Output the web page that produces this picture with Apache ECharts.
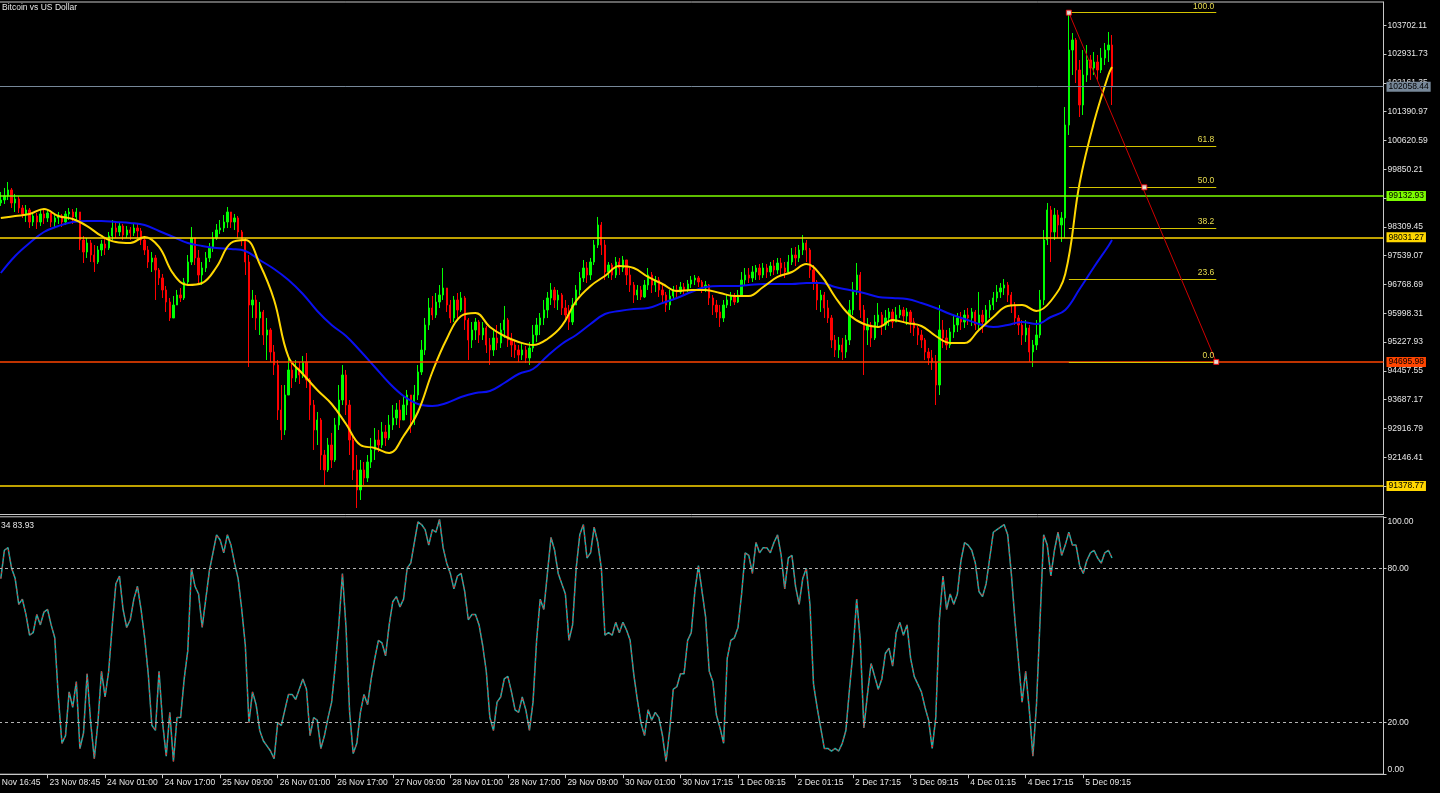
<!DOCTYPE html>
<html><head><meta charset="utf-8">
<script src="https://cdn.jsdelivr.net/npm/echarts@6/dist/echarts.min.js"></script>
<style>html,body{margin:0;padding:0;background:#000;}#c{width:1440px;height:793px;}</style>
</head><body><div id="c"></div>
<script>
// ---------------- data ----------------
const tickLabels = ['23 Nov 08:45','24 Nov 01:00','24 Nov 17:00','25 Nov 09:00','26 Nov 01:00','26 Nov 17:00','27 Nov 09:00','28 Nov 01:00','28 Nov 17:00','29 Nov 09:00','30 Nov 01:00','30 Nov 17:15','1 Dec 09:15','2 Dec 01:15','2 Dec 17:15','3 Dec 09:15','4 Dec 01:15','4 Dec 17:15','5 Dec 09:15'];
const firstTickLabel = '22 Nov 16:45';
const title = 'Bitcoin vs US Dollar';
const stochHeader = '34 83.93';
const firstOpen = 98950;
const closes = [
99029,99136,99297,98949,99056,98815,98655,98762,98440,98601,98440,98655,98548,98682,98440,98548,
98601,98440,98655,98708,98575,98708,97959,97638,97879,97558,97370,97692,97852,97745,98066,98280,
98173,98333,98093,98227,98147,98280,98200,97959,97692,97370,97478,97157,96943,96622,96300,95873,
96220,96488,96408,96835,97370,98013,97478,97023,97210,97478,97745,98013,98227,98280,98440,98708,
98440,98548,98173,97959,97370,96220,96354,95873,96033,95418,95552,94963,94615,93412,92877,93813,
94482,94268,94535,94348,94695,94214,93545,92877,93144,92208,91807,92475,92074,93010,93679,94348,
93545,92609,91807,91272,91807,91593,92020,92342,92609,92475,92823,92663,93010,93198,93412,93144,
93545,93813,93144,93813,94428,95017,95685,96140,95953,96300,96488,96675,96220,95873,96354,96087,
96408,95819,95284,95552,95765,95418,95605,95150,95017,95338,95204,95552,95819,95284,95150,95017,
94883,95017,94803,95070,95418,95685,95873,96087,96408,96622,96354,96488,96140,95953,95765,96220,
96622,96943,97210,97023,97370,97825,98360,97825,97103,97290,97023,97370,97210,97424,97023,96755,
96488,96622,96435,96755,97023,96755,96889,96622,96488,96220,96461,96622,96568,96702,96622,96782,
96889,96943,96835,96675,96755,96408,96220,96033,95873,96220,96354,96461,96300,96488,96889,97023,
96943,97103,97210,97023,97210,97103,97263,97157,97344,97210,97103,97370,97558,97478,97692,97879,
97692,97157,96835,96354,96488,96140,95873,95284,95017,95150,94963,95284,96087,96622,97023,96087,
95552,95685,95338,95765,95953,95685,95873,96033,95765,95953,96087,95926,96033,95765,95605,95418,
95284,94963,94803,94695,94080,95552,95338,95150,95498,95685,95873,95765,95953,95873,96033,95685,
95953,95765,96087,96220,96408,96568,96675,96755,96488,96220,95873,95685,95418,95605,94963,95150,
95418,96354,97959,98762,98173,98628,98360,98548,101035,103041,103309,102506,101570,102373,102774,102560,
102720,102506,102827,103041,103175,102058.44];
const highs = [
99243,99350,99510,99350,99190,99136,98895,98895,98815,98708,98682,98762,98762,98762,98655,98628,
98708,98655,98735,98815,98788,98815,98708,98066,98013,97959,97825,97799,97959,98013,98173,98494,
98440,98440,98387,98333,98307,98414,98387,98280,98066,97799,97638,97558,97210,97050,96729,96408,
96461,96622,96675,96943,97558,98307,98013,97692,97370,97638,97879,98173,98387,98494,98628,98842,
98708,98655,98601,98227,98013,97558,96622,96488,96300,96087,95873,95605,95150,94749,94080,94080,
94803,94695,94749,94695,94856,94936,94268,93679,93358,93198,92342,92663,92797,93198,94080,94615,
94482,93679,92743,92208,92074,92020,92208,92663,92930,92877,93091,93010,93278,93545,93599,93679,
93813,93947,93813,94080,94615,95284,95873,96408,96461,96541,96755,97210,96675,96354,96461,96541,
96568,96461,95873,95765,95873,95819,95765,95659,95338,95552,95685,95739,96194,95873,95472,95284,
95150,95204,95123,95231,95685,95873,96006,96354,96568,96809,96702,96622,96541,96354,96220,96408,
96755,97103,97424,97370,97478,97959,98575,98440,97959,97370,97344,97504,97478,97531,97424,97210,
96835,96755,96729,96889,97210,97103,96996,96970,96755,96568,96622,96729,96755,96835,96809,96889,
96996,97023,96996,96889,96862,96782,96488,96354,96220,96354,96515,96568,96541,96622,97103,97210,
97210,97263,97290,97317,97344,97317,97370,97424,97478,97478,97370,97558,97745,97772,97825,98093,
97959,97745,97290,96889,96622,96568,96354,95953,95418,95365,95338,95418,96354,96835,97344,97103,
96220,95873,95765,95953,96274,96033,96087,96140,96113,96167,96220,96167,96140,96087,95873,95659,
95552,95338,95070,95017,94883,96220,95819,95552,95605,95953,96006,96033,96087,96140,96140,96087,
96568,96087,96220,96354,96568,96755,96809,96916,96835,96568,96300,95953,95819,95819,95685,95284,
95819,96622,98227,98949,98869,98815,98762,98708,101517,104040,103496,103362,102774,103041,103175,102908,
102988,102908,103095,103229,103523,103443];
const lows = [
98869,98922,99029,98815,98708,98682,98548,98440,98280,98333,98253,98333,98387,98440,98307,98280,
98387,98307,98360,98494,98387,98467,97692,97344,97478,97370,97103,97317,97531,97558,97692,97959,
98013,98066,97959,98013,97959,98066,98013,97825,97558,97210,97103,96354,96755,96408,96033,95792,
95926,96220,96300,96354,96755,97290,97290,96809,96755,97103,97370,97638,97959,98120,98173,98280,
98280,98227,98013,97799,97023,94562,95873,95552,95418,95150,94749,94695,94348,93144,92609,92743,
93813,94000,94161,94107,94268,94000,93144,92342,92475,91807,91405,91753,91860,92020,92877,93545,
93278,92208,91539,90790,91004,91405,91486,91860,92074,92288,92395,92449,92609,92877,93010,92930,
93198,93278,92797,93010,93679,94348,94883,95552,95819,95873,96140,96354,96033,95739,95765,95873,
96033,95552,94749,95070,95284,95204,95284,94936,94615,94856,95017,95070,95338,95097,94829,94803,
94695,94749,94669,94615,94963,95231,95418,95685,95873,96220,96140,96087,95953,95765,95552,95685,
96220,96488,96835,96809,96889,97290,97745,97558,96889,96943,96889,96943,97023,97103,96755,96568,
96274,96354,96354,96408,96622,96541,96568,96435,96300,96033,96087,96354,96381,96515,96515,96568,
96675,96755,96702,96541,96568,96220,95953,95873,95632,95765,96140,96194,96220,96274,96435,96755,
96809,96835,96889,96889,96943,96943,96996,97023,97050,96996,96943,97103,97290,97263,97370,97558,
97370,96943,96622,96087,96033,95873,95739,95070,94829,94803,94749,94803,95150,95953,96488,95873,
94348,95150,95097,95284,95605,95418,95552,95659,95605,95765,95873,95765,95685,95472,95391,95150,
95070,94749,94615,94482,93545,93813,95070,95017,95070,95338,95498,95552,95605,95685,95659,95552,
95552,95472,95685,95873,96087,96300,96408,96488,96300,96006,95685,95418,95150,95231,94695,94562,
95017,95338,96220,97825,97370,97959,98013,97906,98013,100768,102373,102159,101249,101303,102185,102239,
102373,102239,102426,102640,102720,101570];
// moving averages read every 4 bars (last value = last bar)
const maFast = [98548,98601,98655,98788,98601,98521,98333,98066,97906,97879,
98040,97772,97050,96755,96809,97237,97879,97959,97317,96354,
94829,94375,93947,93572,93037,92475,92395,92261,92716,93358,
94428,95311,95926,96006,95632,95391,95231,95150,95311,95659,
96327,96729,96996,97263,97210,96970,96782,96595,96622,96622,
96541,96461,96461,96702,96970,97103,97317,97023,96435,95953,
95712,95632,95819,95739,95659,95391,95204,95204,95552,95899,
96194,96220,96060,96327,97050,99484,101115,102373,102587];
const maSlow = [97076,97531,97879,98173,98333,98440,98467,98467,98440,98414,
98360,98200,98040,97879,97799,97745,97719,97665,97424,97183,
96889,96515,96060,95685,95391,94990,94562,94134,93786,93572,
93518,93599,93759,93866,93920,94134,94375,94508,94856,95177,
95418,95712,95980,96060,96113,96140,96274,96408,96568,96702,
96729,96729,96755,96782,96782,96782,96809,96809,96702,96622,
96541,96435,96408,96381,96274,96140,95980,95846,95712,95632,
95685,95765,95712,95899,96087,96648,97237,97799,97959];
const stochK = [
76,87,88,80,76,66,68,62,54,55,62,58,63,64,58,53,
30,12,15,32,26,36,10,16,39,20,6,20,40,30,40,58,
74,77,64,57,60,68,73,64,53,39,19,17,40,20,7,24,
5,22,22,37,48,80,73,70,57,68,79,86,93,91,86,93,
89,82,76,64,50,20,32,27,17,13,11,9,6,20,19,25,
31,31,29,33,37,33,15,22,21,10,15,22,28,42,58,78,
57,24,8,12,24,31,27,37,45,52,51,46,58,67,69,65,
68,80,82,90,98,97,95,89,95,94,99,88,82,78,72,77,
78,71,60,62,62,58,50,40,22,17,28,30,37,38,32,25,
24,30,25,17,28,52,68,64,78,92,87,78,74,70,52,58,
80,93,97,84,86,96,90,80,54,55,54,59,55,59,56,52,
39,29,20,15,25,21,24,22,15,5,17,33,34,39,39,52,
55,71,81,71,61,40,36,23,18,12,45,52,53,57,70,86,
85,78,90,86,88,88,86,90,93,85,72,84,85,73,66,76,
80,66,35,26,18,10,10,9,10,9,12,17,33,48,68,52,
18,31,43,38,33,37,47,49,42,55,59,54,58,45,38,35,
32,26,21,10,22,60,77,64,70,66,70,83,90,89,87,82,
71,69,74,84,94,95,96,97,93,78,60,44,28,40,25,7,
27,60,93,89,77,87,94,85,89,94,89,89,81,78,83,86,
87,84,82,86,87,84];
const priceTicks = [91376.03,92146.41,92916.79,93687.17,94457.55,95227.93,95998.31,96768.69,97539.07,98309.45,99079.83,99850.21,100620.59,101390.97,102161.35,102931.73,103702.11];
const stochTicks = [0,20,80,100];
const stochLevels = [20,80];
const levelValues = [102058.44,99132.93,98031.27,94695.98,91378.77];
const fibHigh = 104040, fibLow = 94695.98;
const fibRatios = [100,61.8,50,38.2,23.6,0];
const fibStartBar = 297, fibEndBar = 338, fibMidBar = 318;

// ---------------- layout / style ----------------
const N_SLOTS = 385, MA_STEP = 4, LABEL_OFFSET = 13, LABEL_STEP = 16;
const PRICE_MIN = 90616.0, PRICE_MAX = 104325.4;
const levelColors = ['#778899','#7cfc00','#ffd700','#ff4500','#ffd700'];
const levelWidths = [1,1.5,1.5,1.5,1.5];
const FONT = '"Liberation Sans", Arial, sans-serif';
const TXT = '#e6e6e6', FRAME = '#c8c8c8';

const categories = Array.from({length: N_SLOTS}, (_, i) => String(i));
const candles = closes.map((c, i) => [i === 0 ? firstOpen : closes[i - 1], c, lows[i], highs[i]]);
const maPoints = arr => arr.map((v, k) => [Math.min(k * MA_STEP, closes.length - 1), v]);
const showTick = i => i >= LABEL_OFFSET && (i - LABEL_OFFSET) % LABEL_STEP === 0 && (i - LABEL_OFFSET) / LABEL_STEP < tickLabels.length;

const levelLines = levelValues.map((v, k) => ({
  yAxis: v,
  lineStyle: {color: levelColors[k], width: levelWidths[k], type: 'solid'},
  label: {show: true, position: 'end', distance: 3, formatter: v.toFixed(2), backgroundColor: levelColors[k],
          color: '#000', fontSize: 8.5, fontFamily: FONT, padding: [1, 2, 0, 2]}
}));
const fibLines = fibRatios.map(r => {
  const p = fibLow + (fibHigh - fibLow) * r / 100;
  return [{coord: [fibStartBar, p], lineStyle: {color: '#d4c400', width: 1, type: 'solid'},
           label: {show: true, position: 'insideEndTop', distance: 2, formatter: r.toFixed(1), color: '#e8dc50', fontSize: 8.5, fontFamily: FONT}},
          {coord: [fibEndBar, p]}];
});
const diag = [{coord: [fibStartBar, fibHigh], lineStyle: {color: '#d00000', width: 1, type: 'solid'}, label: {show: false}},
              {coord: [fibEndBar, fibLow]}];

const chart = echarts.init(document.getElementById('c'), null, {renderer: 'canvas'});
chart.setOption({
  backgroundColor: '#000',
  animation: false,
  textStyle: {fontFamily: FONT},
  grid: [
    {left: -1, top: 2, width: 1384.5, height: 512.5, show: true, borderColor: FRAME, borderWidth: 1, backgroundColor: 'transparent', containLabel: false, outerBoundsMode: 'none'},
    {left: -1, top: 516.8, width: 1384.5, height: 257.4, show: true, borderColor: FRAME, borderWidth: 1, backgroundColor: 'transparent', containLabel: false, outerBoundsMode: 'none'}
  ],
  xAxis: [
    {type: 'category', gridIndex: 0, data: categories, boundaryGap: true, show: false},
    {type: 'category', gridIndex: 1, data: categories, boundaryGap: true,
     axisLine: {show: true, lineStyle: {color: FRAME}},
     axisTick: {show: true, interval: i => showTick(i), alignWithLabel: true, length: 4, lineStyle: {color: FRAME}},
     axisLabel: {show: true, interval: i => showTick(i), formatter: (v, i) => tickLabels[(i - LABEL_OFFSET) / LABEL_STEP],
                 align: 'left', color: TXT, fontSize: 8.5, fontFamily: FONT, margin: 4, padding: [0, 0, 0, 2]},
     splitLine: {show: false}}
  ],
  yAxis: [
    {type: 'value', gridIndex: 0, position: 'right', min: PRICE_MIN, max: PRICE_MAX,
     axisLine: {show: true, lineStyle: {color: FRAME}},
     axisTick: {show: true, customValues: priceTicks, length: 3, lineStyle: {color: FRAME}},
     axisLabel: {show: true, customValues: priceTicks, formatter: v => v.toFixed(2), color: TXT, fontSize: 8.5, fontFamily: FONT, margin: 4},
     splitLine: {show: false}},
    {type: 'value', gridIndex: 1, position: 'right', min: 0, max: 100,
     axisLine: {show: true, lineStyle: {color: FRAME}},
     axisTick: {show: true, customValues: stochTicks, length: 3, lineStyle: {color: FRAME}},
     axisLabel: {show: true, customValues: stochTicks, color: TXT, fontSize: 8.5, fontFamily: FONT, margin: 4,
                 formatter: v => v === 100 ? '{d|100.00}' : (v === 0 ? '{u|0.00}' : v.toFixed(2)),
                 rich: {d: {padding: [10, 0, 0, 0], fontSize: 8.5, color: TXT}, u: {padding: [0, 0, 10, 0], fontSize: 8.5, color: TXT}}},
     splitLine: {show: false}}
  ],
  graphic: [
    {type: 'text', x: 2, y: 3, style: {text: title, fill: TXT, font: '8.5px ' + FONT}},
    {type: 'text', x: 1, y: 521, style: {text: stochHeader, fill: TXT, font: '8.5px ' + FONT}},
    {type: 'text', x: -10, y: 778, style: {text: firstTickLabel, fill: TXT, font: '8.5px ' + FONT}}
  ],
  series: [
    {type: 'candlestick', xAxisIndex: 0, yAxisIndex: 0, data: candles, barWidth: 1.8, z: 2,
     itemStyle: {color: '#00ff00', color0: '#ff0000', borderColor: '#00ff00', borderColor0: '#ff0000', borderWidth: 1},
     markLine: {symbol: ['none', 'none'], silent: true, animation: false, z: 5,
                data: [...levelLines, ...fibLines, diag]}},
    {type: 'line', xAxisIndex: 0, yAxisIndex: 0, data: maPoints(maSlow), smooth: 0.4, showSymbol: false, z: 3,
     lineStyle: {color: '#0a10f0', width: 2}},
    {type: 'line', xAxisIndex: 0, yAxisIndex: 0, data: maPoints(maFast), smooth: 0.4, showSymbol: false, z: 4,
     lineStyle: {color: '#ffd700', width: 2}},
    {type: 'scatter', xAxisIndex: 0, yAxisIndex: 0, z: 6, symbol: 'rect', symbolSize: 5,
     data: [[fibStartBar, fibHigh], [fibMidBar, (fibHigh + fibLow) / 2], [fibEndBar, fibLow]],
     itemStyle: {color: '#ffffff', borderColor: '#ff0000', borderWidth: 1}},
    {type: 'line', xAxisIndex: 1, yAxisIndex: 1, data: stochK, showSymbol: false, z: 3,
     lineStyle: {color: '#20b2aa', width: 1.5},
     markLine: {symbol: ['none', 'none'], silent: true, label: {show: false},
                lineStyle: {color: '#b4b4b4', type: [3, 3], width: 1},
                data: stochLevels.map(v => ({yAxis: v}))}},
    {type: 'line', xAxisIndex: 1, yAxisIndex: 1, data: stochK, showSymbol: false, z: 4,
     lineStyle: {color: '#ff1a1a', width: 1, type: [2, 3]}}
  ]
});
</script></body></html>
